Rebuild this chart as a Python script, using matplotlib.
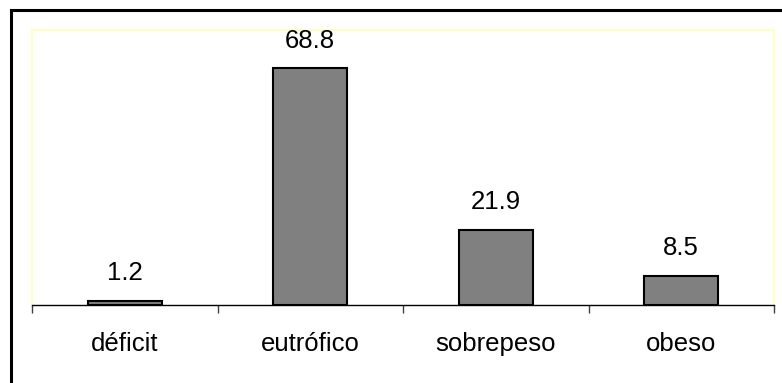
import matplotlib.pyplot as plt
import numpy as np
from matplotlib.lines import Line2D

plt.rcParams['font.family'] = ['Liberation Sans', 'DejaVu Sans']

# ─── Datos ───────────────────────────────────────────────────────────────────

categorias = ['déficit', 'eutrófico', 'sobrepeso', 'obeso']
porcentajes = [1.2, 68.8, 21.9, 8.5]

W, H = 782, 383
fig = plt.figure(figsize=(W / 100, H / 100), dpi=100)

# marco exterior (solo se ven los bordes izquierdo y superior)
fig.add_artist(Line2D([11 / W, 11 / W], [0, 1 - 10 / H], transform=fig.transFigure,
                      color='black', lw=2.2))
fig.add_artist(Line2D([11 / W, 1], [1 - 10 / H, 1 - 10 / H], transform=fig.transFigure,
                      color='black', lw=2.2))

x0, x1 = 32, 774
y_top, y_axis = 30, 304.7
ax = fig.add_axes([x0 / W, (H - y_axis) / H, (x1 - x0) / W, (y_axis - y_top) / H])

pos = np.arange(len(categorias))
ax.bar(pos, porcentajes, width=0.4, color='#808080', edgecolor='black', linewidth=1.5,
       zorder=3)

for x, v in zip(pos, porcentajes):
    ax.annotate(f'{v:.1f}', (x, v), xytext=(0, 15), textcoords='offset points',
                ha='center', va='baseline', fontsize=18.5)

ax.set_xlim(-0.5, len(categorias) - 0.5)
ax.set_ylim(0, 80)

for lado in ['left', 'top', 'right']:
    ax.spines[lado].set_color('#ffffc0')
    ax.spines[lado].set_linewidth(1.5)
ax.spines['bottom'].set_color('black')
ax.spines['bottom'].set_linewidth(1)

ax.set_yticks([])
ax.set_xticks(np.arange(-0.5, len(categorias), 1.0))
ax.set_xticklabels([])
ax.tick_params(axis='x', which='major', length=6, width=1, color='#404040', direction='out')
ax.set_xticks(pos, minor=True)
ax.set_xticklabels(categorias, minor=True, fontsize=18.5)
ax.tick_params(axis='x', which='minor', length=0, pad=20)

fig.savefig('out.png', dpi=100)
plt.close()
